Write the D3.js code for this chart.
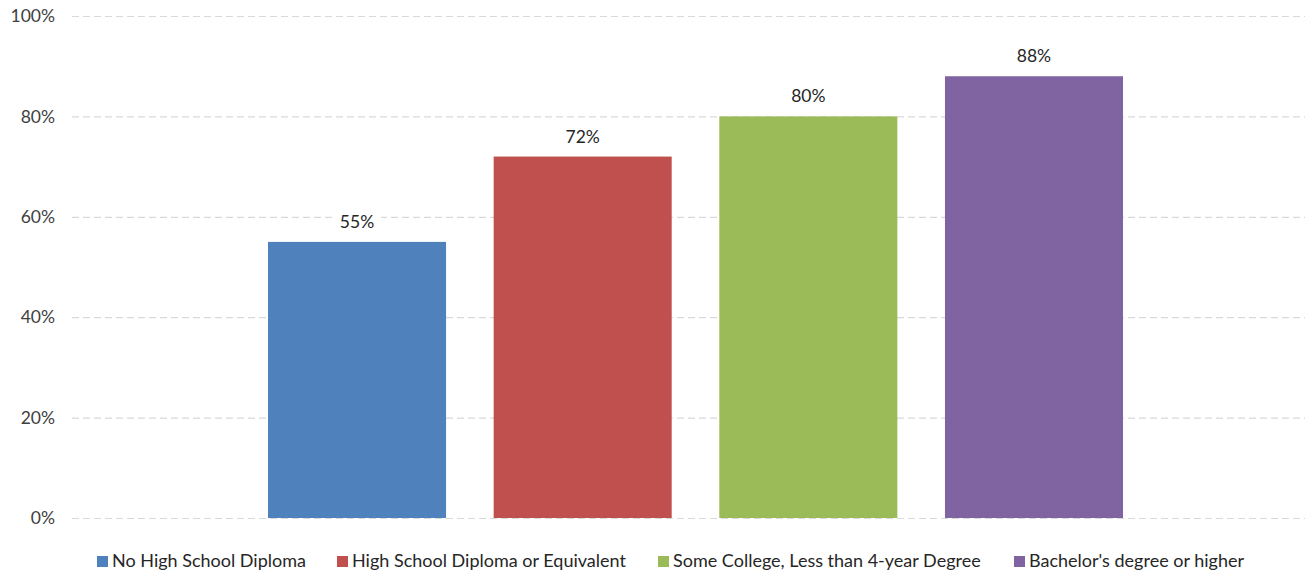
<!DOCTYPE html>
<html>
<head>
<meta charset="utf-8">
<script src="https://cdn.jsdelivr.net/npm/d3@7"></script>
<style>
  html, body { margin: 0; padding: 0; background: #fff; }
  svg { display: block; }
  text { font-family: Lato, "Open Sans", sans-serif; }
</style>
</head>
<body>
<svg id="chart" width="1311" height="571"></svg>
<script>
// Share of adults by educational attainment (percent)
const categories = [
  "No High School Diploma",
  "High School Diploma or Equivalent",
  "Some College, Less than 4-year Degree",
  "Bachelor's degree or higher"
];
const values = [55, 72, 80, 88];
const colors = ["#4F81BD", "#C0504D", "#9BBB59", "#8064A2"];
const yTicks = [0, 20, 40, 60, 80, 100];

const svg = d3.select("#chart");
const fontSize = 17.5;

const plotLeft = 72, plotRight = 1305;
const y = d3.scaleLinear().domain([0, 100]).range([518, 16]);
const x = d3.scaleBand()
  .domain(categories)
  .range([244.2, 1146.8])
  .paddingInner(0.211)
  .paddingOuter(0.1055);

// Dashed horizontal gridlines
const grid = svg.append("g");
grid.selectAll("line")
  .data(yTicks)
  .join("line")
  .attr("x1", plotLeft)
  .attr("x2", plotRight)
  .attr("y1", d => y(d) + 0.5)
  .attr("y2", d => y(d) + 0.5)
  .attr("stroke", "#d9d9d9")
  .attr("stroke-width", 1.2)
  .attr("stroke-dasharray", "7,4");

// Y axis labels
const yAxis = d3.axisLeft(y)
  .tickValues(yTicks)
  .tickFormat(d => d + "%")
  .tickSize(0)
  .tickPadding(0);
const ax = svg.append("g").attr("transform", "translate(55,0)").call(yAxis);
ax.select(".domain").remove();
ax.selectAll("text")
  .attr("font-size", fontSize)
  .attr("fill", "#404040")
  .attr("font-family", "Lato, 'Open Sans', sans-serif");

// Bars
svg.append("g").selectAll("rect")
  .data(categories)
  .join("rect")
  .attr("x", d => x(d))
  .attr("width", x.bandwidth())
  .attr("y", (d, i) => y(values[i]))
  .attr("height", (d, i) => y(0) - y(values[i]))
  .attr("fill", (d, i) => colors[i]);

// Value labels with a white backing that hides the gridline behind them
const lab = svg.append("g").selectAll("g")
  .data(categories)
  .join("g")
  .attr("transform", (d, i) => `translate(${x(d) + x.bandwidth() / 2},${y(values[i]) - 14})`);
lab.append("rect")
  .attr("x", -24).attr("y", -15).attr("width", 48).attr("height", 21)
  .attr("fill", "#fff");
lab.append("text")
  .attr("text-anchor", "middle")
  .attr("font-size", fontSize)
  .attr("fill", "#262626")
  .text((d, i) => values[i] + "%");

// Legend
const legendX = [97, 337, 658, 1014];
const leg = svg.append("g").selectAll("g")
  .data(categories)
  .join("g")
  .attr("transform", (d, i) => `translate(${legendX[i]},556)`);
leg.append("rect")
  .attr("width", 11).attr("height", 11)
  .attr("fill", (d, i) => colors[i]);
leg.append("text")
  .attr("x", 15).attr("y", 11)
  .attr("font-size", 18)
  .attr("fill", "#262626")
  .text(d => d);
</script>
</body>
</html>
